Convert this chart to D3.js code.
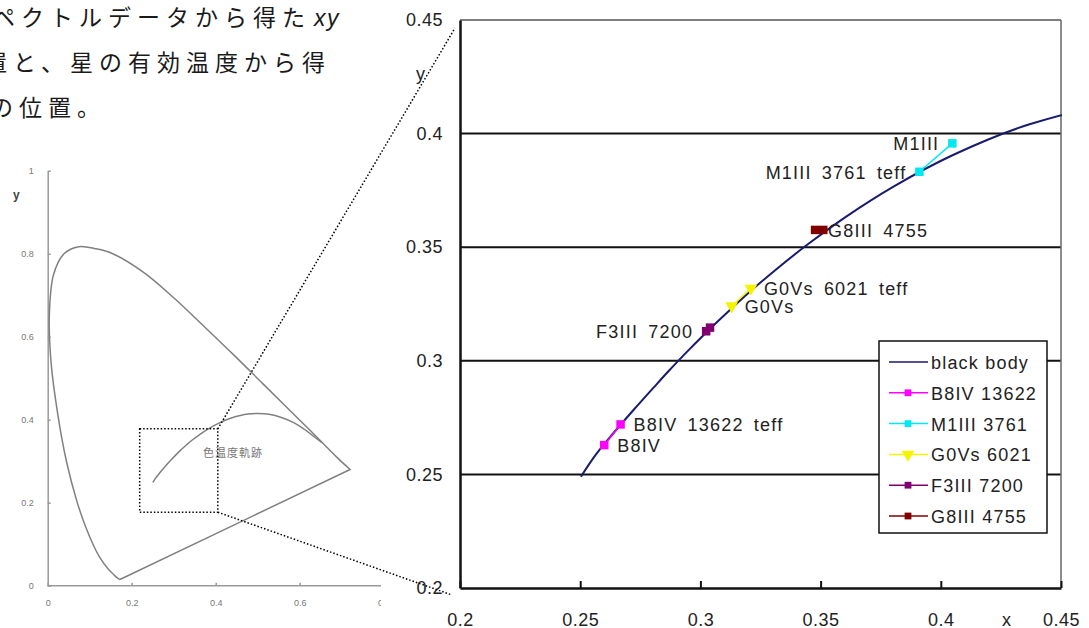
<!DOCTYPE html>
<html>
<head>
<meta charset="utf-8">
<script src="https://cdnjs.cloudflare.com/ajax/libs/d3/7.8.5/d3.min.js"></script>
<style>
    body { margin: 0; background: #fff; }
    svg { display: block; }
    .main-tick text { font-family: "Liberation Sans", Arial, sans-serif; font-size: 18px; fill: #222; letter-spacing: 0.5px; }
    .small-tick text { font-family: "Liberation Sans", Arial, sans-serif; font-size: 9px; fill: #777; }
    .lbl { font-family: "Liberation Sans", Arial, sans-serif; font-size: 18px; fill: #222; letter-spacing: 1.2px; }
    .plbl { word-spacing: 4px; }
    .jp { font-family: "Noto Sans CJK JP", sans-serif; font-size: 23px; fill: #1a1a1a; letter-spacing: 6px; }
</style>
</head>
<body>
<svg width="1089" height="628"></svg>
<script>
// black body (Planckian) locus, hot -> cool
const bbX = [0.2503, 0.2565, 0.2637, 0.2719, 0.2807, 0.2869, 0.2952, 0.3064, 0.3135, 0.3221,
             0.3325, 0.3451, 0.3608, 0.3805, 0.4053, 0.4369, 0.4770, 0.5267, 0.5857, 0.6528];
const bbY = [0.2490, 0.2587, 0.2680, 0.2780, 0.2884, 0.2956, 0.3048, 0.3165, 0.3236, 0.3318,
             0.3411, 0.3516, 0.3636, 0.3768, 0.3907, 0.4041, 0.4137, 0.4133, 0.3931, 0.3444];

// spectral locus for the small overview diagram
const locusX = [0.172, 0.170, 0.164, 0.157, 0.144, 0.124, 0.110, 0.091, 0.069, 0.045, 0.024, 0.008,
                0.004, 0.014, 0.039, 0.074, 0.114, 0.155, 0.230, 0.302, 0.373, 0.444, 0.512, 0.575,
                0.627, 0.690, 0.720];
const locusY = [0.015, 0.016, 0.020, 0.027, 0.040, 0.068, 0.095, 0.140, 0.205, 0.298, 0.413, 0.538,
                0.655, 0.750, 0.800, 0.817, 0.812, 0.800, 0.754, 0.692, 0.624, 0.555, 0.487, 0.424,
                0.372, 0.308, 0.280];

// stars: [spectrum point, teff point]
const seriesNames = ["B8IV 13622", "M1III 3761", "G0Vs 6021", "F3III 7200", "G8III 4755"];
const seriesColors = ["#ff00ff", "#00e8f0", "#f4f400", "#800070", "#800000"];
const b8X = [0.2600, 0.2668], b8Y = [0.2629, 0.2720];
const m1X = [0.4048, 0.3911], m1Y = [0.3957, 0.3832];
const g0X = [0.3130, 0.3210], g0Y = [0.3241, 0.3319];
const f3X = [0.3024, 0.3040], f3Y = [0.3130, 0.3146];
const g8X = [0.3477, 0.3511], g8Y = [0.3576, 0.3576];
const pointLabels = [["B8IV", "B8IV 13622 teff"], ["M1III", "M1III 3761 teff"],
                     ["G0Vs", "G0Vs 6021 teff"], ["F3III 7200", ""], ["G8III 4755", ""]];
const labelLeft = [false, true, false, true, false];

const xTicks = [0.2, 0.25, 0.3, 0.35, 0.4, 0.45];
const yTicks = [0.2, 0.25, 0.3, 0.35, 0.4, 0.45];
const smallTicks = [0, 0.2, 0.4, 0.6, 0.8];

const svg = d3.select("svg");

// ---------- text top left (cut at the left edge, as in the source) ----------
svg.append("text").attr("class", "jp").attr("x", 311).attr("y", 26)
    .attr("text-anchor", "end").text("ペクトルデータから得た");
svg.append("text").attr("class", "jp").attr("x", 314).attr("y", 26)
    .style("font-style", "italic").style("letter-spacing", "1.5px")
    .style("font-family", "'Liberation Sans', sans-serif").text("xy");
svg.append("text").attr("class", "jp").attr("x", 331).attr("y", 71)
    .attr("text-anchor", "end").text("置と、星の有効温度から得");
svg.append("text").attr("class", "jp").attr("x", 106).attr("y", 116)
    .attr("text-anchor", "end").text("の位置。");

// ---------- small overview diagram ----------
const sx = d3.scaleLinear().domain([0, 1]).range([47.7, 467.7]);
const sy = d3.scaleLinear().domain([0, 1]).range([585.7, 170.7]);

svg.append("clipPath").attr("id", "smallClip")
    .append("rect").attr("x", 0).attr("y", 150).attr("width", 381).attr("height", 478);
const small = svg.append("g").attr("clip-path", "url(#smallClip)");

small.append("g").attr("class", "small-tick")
    .attr("transform", `translate(0,${sy(0)})`)
    .call(d3.axisBottom(sx).tickValues(smallTicks).tickSizeInner(-3).tickSizeOuter(0).tickPadding(14)
        .tickFormat(d => d === 0 ? "0" : d3.format(".1f")(d)))
    .call(g => g.selectAll("line, path").attr("stroke", "#999").attr("stroke-width", 1.5))
    .call(g => g.select(".domain").attr("d", `M${sx(0)},0H381`));
small.append("g").attr("class", "small-tick")
    .attr("transform", `translate(${sx(0)},0)`)
    .call(d3.axisLeft(sy).tickValues([0, 0.2, 0.4, 0.6, 0.8, 1]).tickSizeInner(-3).tickSizeOuter(0).tickPadding(14)
        .tickFormat(d => d === 0 ? "0" : d === 1 ? "1" : d3.format(".1f")(d)))
    .call(g => g.selectAll("line, path").attr("stroke", "#999").attr("stroke-width", 1.5));
small.append("text").attr("x", 13).attr("y", 199)
    .style("font", "bold 12px 'Liberation Sans', sans-serif").style("fill", "#444").text("y");

const locusPts = locusX.map((x, i) => [x, locusY[i]]);
small.append("path")
    .attr("d", d3.line().x(d => sx(d[0])).y(d => sy(d[1])).curve(d3.curveCatmullRom)(locusPts)
        + `L${sx(locusX[0])},${sy(locusY[0])}`)
    .attr("fill", "none").attr("stroke", "#808080").attr("stroke-width", 1.5);

const bbPts = bbX.map((x, i) => [x, bbY[i]]);
small.append("path")
    .datum(bbPts)
    .attr("d", d3.line().x(d => sx(d[0])).y(d => sy(d[1])).curve(d3.curveCatmullRom))
    .attr("fill", "none").attr("stroke", "#808080").attr("stroke-width", 1.5);
small.append("text").attr("x", 203).attr("y", 457)
    .style("font", "11px 'Noto Sans CJK JP', sans-serif").style("fill", "#777").style("letter-spacing", "1px")
    .text("色温度軌跡");

// zoom rectangle
svg.append("rect")
    .attr("x", sx(0.219)).attr("y", sy(0.378))
    .attr("width", sx(0.405) - sx(0.219)).attr("height", sy(0.177) - sy(0.378))
    .attr("fill", "none").attr("stroke", "#000").attr("stroke-width", 1.5).attr("stroke-dasharray", "1.5,2");

// ---------- main chart ----------
const x = d3.scaleLinear().domain([0.2, 0.45]).range([460, 1061]);
const y = d3.scaleLinear().domain([0.2, 0.45]).range([588, 20]);

svg.append("rect").attr("x", x(0.2)).attr("y", y(0.45))
    .attr("width", x(0.45) - x(0.2)).attr("height", y(0.2) - y(0.45)).attr("fill", "#fff");

// horizontal gridlines
svg.append("g").selectAll("line")
    .data(yTicks.slice(1, -1))
    .join("line")
    .attr("x1", x(0.2)).attr("x2", x(0.45))
    .attr("y1", d => y(d)).attr("y2", d => y(d))
    .attr("stroke", "#111").attr("stroke-width", 2);

// frame
svg.append("line").attr("x1", x(0.2)).attr("x2", x(0.45)).attr("y1", y(0.45)).attr("y2", y(0.45))
    .attr("stroke", "#555").attr("stroke-width", 1.5);
svg.append("line").attr("x1", x(0.45)).attr("x2", x(0.45)).attr("y1", y(0.45)).attr("y2", y(0.2))
    .attr("stroke", "#666").attr("stroke-width", 1.5);

svg.append("g").attr("class", "main-tick")
    .attr("transform", `translate(0,${y(0.2)})`)
    .call(d3.axisBottom(x).tickValues(xTicks).tickSizeInner(-7).tickSizeOuter(0).tickPadding(25)
        .tickFormat(d3.format("~g")))
    .call(g => g.selectAll("line").attr("stroke", "#111").attr("stroke-width", 2))
    .call(g => g.select(".domain").attr("stroke", "#111").attr("stroke-width", 2.5));
svg.append("g").attr("class", "main-tick")
    .attr("transform", `translate(${x(0.2)},0)`)
    .call(d3.axisLeft(y).tickValues(yTicks).tickSize(0).tickPadding(17).tickFormat(d3.format("~g")))
    .call(g => g.select(".domain").attr("stroke", "#111").attr("stroke-width", 2.5));

svg.append("text").attr("class", "lbl").attr("x", 1007).attr("y", 626).attr("text-anchor", "middle").text("x");
svg.append("text").attr("class", "lbl").attr("x", 421).attr("y", 80).attr("text-anchor", "middle").text("y");

// black body curve
svg.append("clipPath").attr("id", "plotClip")
    .append("rect").attr("x", x(0.2)).attr("y", y(0.45))
    .attr("width", x(0.45) - x(0.2) + 1).attr("height", y(0.2) - y(0.45));
const plot = svg.append("g").attr("clip-path", "url(#plotClip)");
plot.append("path")
    .datum(bbPts)
    .attr("d", d3.line().x(d => x(d[0])).y(d => y(d[1])).curve(d3.curveCatmullRom))
    .attr("fill", "none").attr("stroke", "#1a1a6e").attr("stroke-width", 2);

// star series
const starX = [b8X, m1X, g0X, f3X, g8X];
const starY = [b8Y, m1Y, g0Y, f3Y, g8Y];
const markerOf = i => i === 2
    ? d3.symbol().type(d3.symbolTriangle).size(70)()
    : d3.symbol().type(d3.symbolSquare).size(72)();

starX.forEach((xs, i) => {
    const pts = xs.map((v, j) => [v, starY[i][j]]);
    const g = plot.append("g");
    g.append("path")
        .attr("d", d3.line().x(d => x(d[0])).y(d => y(d[1]))(pts))
        .attr("fill", "none").attr("stroke", seriesColors[i]).attr("stroke-width", 1.5);
    g.selectAll("path.m")
        .data(pts)
        .join("path")
        .attr("class", "m")
        .attr("d", markerOf(i))
        .attr("transform", d => `translate(${x(d[0])},${y(d[1])})` + (i === 2 ? " rotate(180)" : ""))
        .attr("fill", seriesColors[i]);
    svg.append("g").selectAll("text")
        .data(pts)
        .join("text")
        .attr("class", "lbl plbl")
        .attr("x", d => x(d[0]) + (labelLeft[i] ? -13 : 13))
        .attr("y", d => y(d[1]) + 7)
        .attr("text-anchor", labelLeft[i] ? "end" : "start")
        .text((d, j) => pointLabels[i][j]);
});

// legend
const legendNames = ["black body"].concat(seriesNames);
const legendColors = ["#1a1a6e"].concat(seriesColors);
const legend = svg.append("g");
legend.append("rect").attr("x", 879).attr("y", 341).attr("width", 168).attr("height", 192)
    .attr("fill", "#fff").attr("stroke", "#111").attr("stroke-width", 1.5);
const row = legend.selectAll("g.row")
    .data(legendNames)
    .join("g")
    .attr("class", "row")
    .attr("transform", (d, i) => `translate(0,${362 + i * 30.8})`);
row.append("line").attr("x1", 889).attr("x2", 928)
    .attr("stroke", (d, i) => legendColors[i]).attr("stroke-width", 1.5);
row.filter((d, i) => i > 0).append("path")
    .attr("d", (d, i) => markerOf(i))
    .attr("transform", (d, i) => `translate(908,0)` + (i === 2 ? " rotate(180)" : " scale(0.8)"))
    .attr("fill", (d, i) => seriesColors[i]);
row.append("text").attr("class", "lbl").attr("x", 931).attr("y", 7).text(d => d);

// dotted connectors from the overview box to the zoomed chart
const dotted = [[sx(0.405), sy(0.378), 455, 28], [sx(0.405), sy(0.177), 452, 595]];
svg.append("g").selectAll("line")
    .data(dotted)
    .join("line")
    .attr("x1", d => d[0]).attr("y1", d => d[1]).attr("x2", d => d[2]).attr("y2", d => d[3])
    .attr("stroke", "#000").attr("stroke-width", 1.5).attr("stroke-dasharray", "1.5,2");
</script>
</body>
</html>
